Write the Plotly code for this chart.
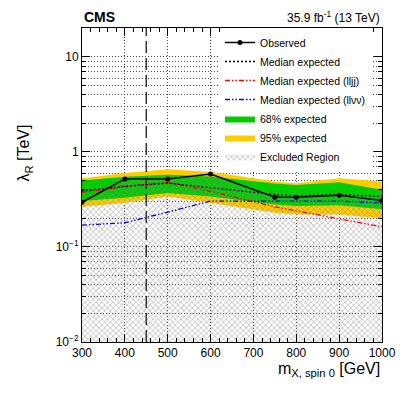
import plotly.graph_objects as go

# resonance masses [GeV]
mass = [300, 400, 500, 600, 750, 800, 900, 1000]

# limits on lambda_R [TeV]
observed = [0.296, 0.52, 0.52, 0.586, 0.334, 0.334, 0.351, 0.309]
expected = [0.39, 0.435, 0.47, 0.42, 0.356, 0.345, 0.356, 0.34]
exp_lljj = [0.377, 0.43, 0.48, 0.386, 0.265, 0.24, 0.20, 0.163]
exp_llvv = [0.17, 0.18, 0.233, 0.304, 0.304, 0.304, 0.304, 0.29]

band68_up = [0.50, 0.55, 0.576, 0.553, 0.465, 0.45, 0.48, 0.40]
band68_dn = [0.304, 0.33, 0.37, 0.34, 0.28, 0.27, 0.275, 0.25]
band95_up = [0.53, 0.60, 0.66, 0.62, 0.49, 0.47, 0.53, 0.49]
band95_dn = [0.265, 0.29, 0.34, 0.29, 0.23, 0.22, 0.22, 0.20]

y_min = 0.01
cut_mass = 450

fig = go.Figure()

def band(up, dn, color, name, rank):
    fig.add_trace(go.Scatter(
        x=mass + mass[::-1], y=up + dn[::-1], fill="toself", fillcolor=color,
        line=dict(width=0, color=color), mode="lines", name=name,
        legendrank=rank, hoverinfo="skip"))

band(band95_up, band95_dn, "#ffcc00", "95% expected", 6)
band(band68_up, band68_dn, "#00cc00", "68% expected", 5)

# excluded region (hatched) below observed limit
fig.add_trace(go.Scatter(
    x=mass + mass[::-1], y=observed + [y_min] * len(mass), fill="toself",
    fillcolor="rgba(0,0,0,0)", mode="lines", line=dict(width=0, color="#888"),
    fillpattern=dict(shape="x", fgcolor="#8c8c8c", bgcolor="rgba(0,0,0,0)", size=4, solidity=0.4),
    name="Excluded Region", legendrank=7))

fig.add_trace(go.Scatter(x=mass, y=exp_llvv, mode="lines", name="Median expected (llνν)",
                         line=dict(color="#0000ff", dash="5px,2px,1.5px,2px,1.5px,2px", width=1.3),
                         legendrank=4))
fig.add_trace(go.Scatter(x=mass, y=exp_lljj, mode="lines", name="Median expected (lljj)",
                         line=dict(color="#ff0000", dash="5px,2px,1.5px,2px,1.5px,2px", width=1.3),
                         legendrank=3))
fig.add_trace(go.Scatter(x=mass, y=expected, mode="lines", name="Median expected",
                         line=dict(color="black", dash="2px,2px", width=1.3), legendrank=2))
fig.add_trace(go.Scatter(x=mass, y=observed, mode="lines+markers", name="Observed",
                         line=dict(color="black", width=1.5), marker=dict(size=5, color="black"),
                         legendrank=1))

fig.add_vline(x=cut_mass, line=dict(color="#333", dash="12px,5px", width=1.5))

minor_y = [m * 10 ** e for e in range(-2, 2) for m in range(2, 10)]

fig.update_xaxes(
    range=[300, 1000], showline=True, linecolor="black", mirror="ticks",
    ticks="inside", ticklen=8, tickcolor="black", dtick=100,
    showgrid=True, gridcolor="#444", griddash="1px,2px", gridwidth=1,
    minor=dict(ticks="inside", ticklen=4, dtick=20, tickcolor="black", showgrid=False),
    tickfont=dict(size=12), zeroline=False)
fig.update_yaxes(
    type="log", range=[-2, 1.305], showline=True, linecolor="black", mirror="ticks",
    ticks="inside", ticklen=8, tickcolor="black",
    tickvals=[0.01, 0.1, 1, 10], ticktext=["10<sup>−2</sup>", "10<sup>−1</sup>", "1", "10"],
    showgrid=True, gridcolor="#444", griddash="1px,2px", gridwidth=1,
    minor=dict(ticks="inside", ticklen=4, tickvals=minor_y, tickcolor="black",
               showgrid=True, gridcolor="#555", griddash="1px,2px", gridwidth=1),
    tickfont=dict(size=12), zeroline=False)

fig.add_annotation(x=0, y=1.003, xref="paper", yref="paper", text="<b>CMS</b>",
                   showarrow=False, xanchor="left", yanchor="bottom", font=dict(size=14))
fig.add_annotation(x=1, y=1.003, xref="paper", yref="paper", text="35.9 fb<sup>-1</sup> (13 TeV)",
                   showarrow=False, xanchor="right", yanchor="bottom", font=dict(size=12))
fig.add_annotation(x=1, y=-0.05, xref="paper", yref="paper",
                   text="m<sub>X, spin 0</sub> [GeV]", showarrow=False,
                   xanchor="right", yanchor="top", font=dict(size=16))
fig.add_annotation(x=-0.19, y=0.6, xref="paper", yref="paper",
                   text="λ<sub>R</sub> [TeV]", showarrow=False, textangle=-90,
                   xanchor="center", yanchor="middle", font=dict(size=16))

# page body has an 8px margin, so the figure is sized to fit inside it
fig.update_layout(
    width=399, height=387,
    margin=dict(l=74, r=25, t=20, b=53),
    plot_bgcolor="white", paper_bgcolor="white",
    font=dict(family="Liberation Sans, Arial, sans-serif", color="black"),
    legend=dict(x=0.46, y=1.0, xanchor="left", yanchor="top", bgcolor="white",
                font=dict(size=10.5), tracegroupgap=0, itemwidth=30,
                traceorder="normal"),
)

fig.write_html("out.html")
